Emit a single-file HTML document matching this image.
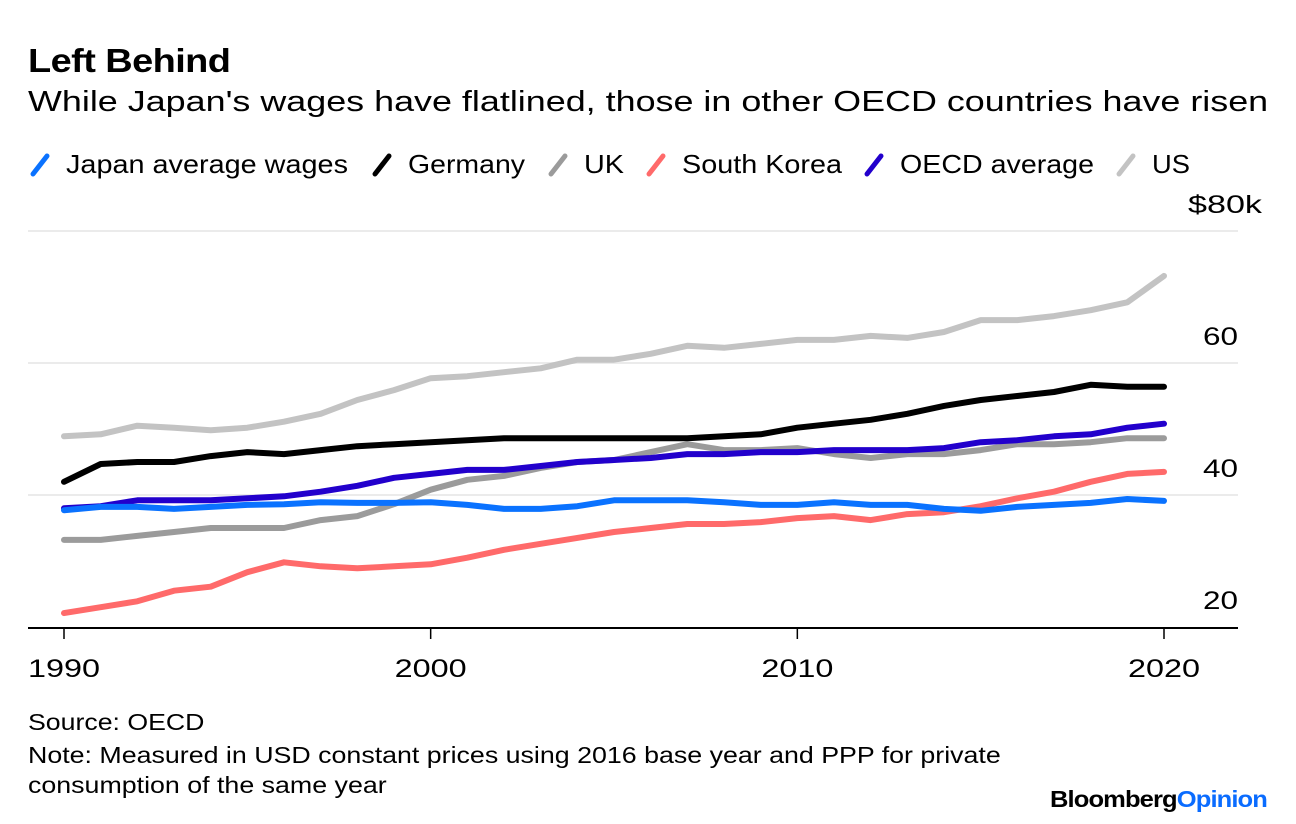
<!DOCTYPE html>
<html><head><meta charset="utf-8">
<style>
body{margin:0;background:#fff;font-family:"Liberation Sans",Arial,sans-serif;}
#wrap{position:relative;width:1296px;height:824px;overflow:hidden;}
.t{position:absolute;white-space:nowrap;color:#000;transform-origin:0 0;}
</style></head>
<body>
<div id="wrap">
<div class="t" style="left:28px;top:42px;font-size:33px;font-weight:bold;letter-spacing:-0.5px;transform:scaleX(1.15)">Left Behind</div>
<div class="t" style="left:28px;top:86px;font-size:29px;transform:scaleX(1.238)">While Japan's wages have flatlined, those in other OECD countries have risen</div>
<svg id="chart" width="1296" height="824" style="position:absolute;left:0;top:0"></svg>
<div class="t" style="left:28px;top:709px;font-size:23px;transform:scaleX(1.16)">Source: OECD</div>
<div class="t" style="left:28px;top:740px;font-size:23px;line-height:30px;transform:scaleX(1.164)">Note: Measured in USD constant prices using 2016 base year and PPP for private<br>consumption of the same year</div>
<div class="t" style="left:1050px;top:786px;font-size:23px;font-weight:bold;letter-spacing:-0.8px;transform:scaleX(1.11)">Bloomberg<span style="color:#0a6cff">Opinion</span></div>
</div>
<script>
const years=[1990,1991,1992,1993,1994,1995,1996,1997,1998,1999,2000,2001,2002,2003,2004,2005,2006,2007,2008,2009,2010,2011,2012,2013,2014,2015,2016,2017,2018,2019,2020];
const japan=[37.7,38.2,38.2,37.9,38.2,38.5,38.6,38.9,38.8,38.8,38.9,38.5,37.9,37.9,38.3,39.2,39.2,39.2,38.9,38.5,38.5,38.9,38.5,38.5,37.9,37.6,38.2,38.5,38.8,39.4,39.1];
const germany=[42,44.7,45,45,45.9,46.5,46.2,46.8,47.4,47.7,48,48.3,48.6,48.6,48.6,48.6,48.6,48.6,48.9,49.2,50.2,50.8,51.4,52.3,53.5,54.4,55,55.6,56.7,56.4,56.4];
const uk=[33.2,33.2,33.8,34.4,35,35,35,36.2,36.8,38.6,40.8,42.3,42.9,44.1,45,45.3,46.5,47.7,46.8,46.8,47.1,46.2,45.6,46.2,46.2,46.8,47.7,47.7,48,48.6,48.6];
const korea=[22.1,23,23.9,25.5,26.1,28.3,29.8,29.2,28.9,29.2,29.5,30.5,31.7,32.6,33.5,34.4,35,35.6,35.6,35.9,36.5,36.8,36.2,37.1,37.4,38.3,39.5,40.5,42,43.2,43.5];
const oecd=[38,38.3,39.2,39.2,39.2,39.5,39.8,40.5,41.4,42.6,43.2,43.8,43.8,44.4,45,45.3,45.6,46.2,46.2,46.5,46.5,46.8,46.8,46.8,47.1,48,48.3,48.9,49.2,50.2,50.8];
const us=[48.9,49.2,50.5,50.2,49.8,50.2,51.1,52.3,54.4,55.9,57.7,58,58.6,59.2,60.5,60.5,61.4,62.6,62.3,62.9,63.5,63.5,64.1,63.8,64.7,66.5,66.5,67.1,68,69.2,73.2];
const yTicks=[20,40,60,80];
const yTickLabels=["20","40","60","$80k"];
const xTicks=[1990,2000,2010,2020];
const seriesNames=["Japan average wages","Germany","UK","South Korea","OECD average","US"];

const NS="http://www.w3.org/2000/svg";
const svg=document.getElementById('chart');
const X=y=>64+(y-1990)*(1100/30);
const Y=v=>627-(v-20)*6.6;
function mk(t,a){const e=document.createElementNS(NS,t);for(const k in a)e.setAttribute(k,a[k]);svg.appendChild(e);return e;}
yTicks.forEach((v,i)=>{
  if(v>20){const g=mk('line',{x1:28,x2:1238,y1:Y(v),y2:Y(v),stroke:'#ebebeb','stroke-width':2});
  
  }
  const lbl=yTickLabels[i];
  const t=mk('text',{x:lbl.length>2?1188:1203,y:Y(v)-18,'font-size':25,'font-family':'Liberation Sans, sans-serif',lengthAdjust:'spacingAndGlyphs'});
  t.setAttribute('textLength',lbl.length>2?74:35);
  t.textContent=lbl;
  
  
});
const ax=mk('line',{x1:28,x2:1238,y1:628,y2:628,stroke:'#000','stroke-width':2});


xTicks.forEach(yr=>{
  const tk=mk('line',{x1:X(yr),x2:X(yr),y1:628,y2:639,stroke:'#000','stroke-width':1.5});
  
  
  const t=mk('text',{x:X(yr)-36,y:677,'font-size':25,'font-family':'Liberation Sans, sans-serif',textLength:72,lengthAdjust:'spacingAndGlyphs'});
  t.textContent=yr;
  
  
});
const series=[[us,'#c3c3c3','us'],[uk,'#9b9b9b','uk'],[korea,'#ff6a6a','south-korea'],[germany,'#000','germany'],[oecd,'#2200cc','oecd-average'],[japan,'#0a72ff','japan']];
series.forEach(s=>{
  const d=s[0].map((v,i)=>(i?'L':'M')+X(years[i]).toFixed(1)+','+Y(v).toFixed(1)).join('');
  const p=mk('path',{d:d,fill:'none',stroke:s[1],'stroke-width':6,'stroke-linejoin':'round','stroke-linecap':'round'});
  
  
});
// legend
const legColors=['#0a72ff','#000','#9b9b9b','#ff6a6a','#2200cc','#c3c3c3'];
const legX=[30,372,548,646,864,1116];
const legW=[282,117,40,160,194,38];
seriesNames.forEach((n,i)=>{
  const m=mk('line',{x1:legX[i]+3,y1:174,x2:legX[i]+17,y2:156,stroke:legColors[i],'stroke-width':5,'stroke-linecap':'round'});
  
  
  const t=mk('text',{x:legX[i]+36,y:173,'font-size':26,'font-family':'Liberation Sans, sans-serif',textLength:legW[i],lengthAdjust:'spacingAndGlyphs'});
  t.textContent=n;
  
  
});
</script>
</body></html>
